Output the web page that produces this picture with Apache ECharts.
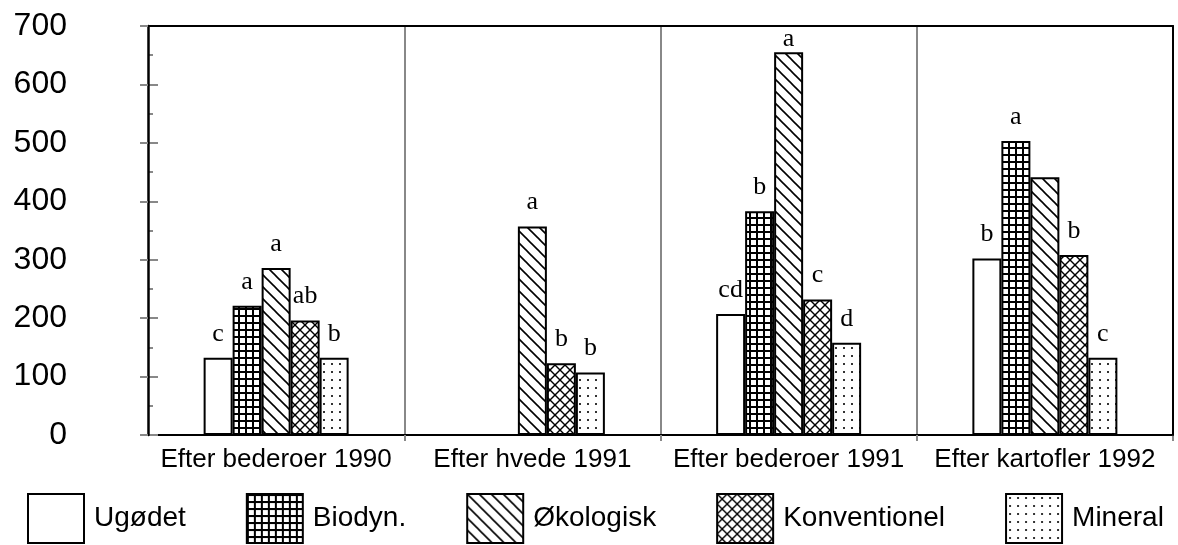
<!DOCTYPE html>
<html>
<head>
<meta charset="utf-8">
<script src="https://cdn.jsdelivr.net/npm/echarts@6/dist/echarts.min.js"></script>
<style>
  html, body { margin: 0; padding: 0; background: #fff; }
  #chart { width: 1178px; height: 545px; }
</style>
</head>
<body>
<div id="chart"></div>
<script>
// ---- data ----
const categories = ['Efter bederoer 1990', 'Efter hvede 1991', 'Efter bederoer 1991', 'Efter kartofler 1992'];
const seriesNames = ['Ugødet', 'Biodyn.', 'Økologisk', 'Konventionel', 'Mineral'];
const ugodet       = [132, null, 207, 302];
const biodyn       = [221, null, 383, 503];
const okologisk    = [286, 357, 655, 441];
const konventionel = [196, 123, 232, 308];
const mineral      = [132, 107, 158, 132];
const ugodetLetters       = ['c', '', 'cd', 'b'];
const biodynLetters       = ['a', '', 'b', 'a'];
const okologiskLetters    = ['a', 'a', 'a', ''];
const konventionelLetters = ['ab', 'b', 'c', 'b'];
const mineralLetters      = ['b', 'b', 'd', 'c'];
const yMin = 0, yMax = 700, yStep = 100;

const values = [ugodet, biodyn, okologisk, konventionel, mineral];
const letters = [ugodetLetters, biodynLetters, okologiskLetters, konventionelLetters, mineralLetters];

// ---- fill patterns ----
function makePattern(type) {
  if (type === 'white') return '#ffffff';
  const c = document.createElement('canvas');
  let s = 8;
  if (type === 'grid') s = 7;
  if (type === 'diag') s = 12;
  if (type === 'cross') s = 10;
  if (type === 'dots') s = 8;
  c.width = s; c.height = s;
  const ctx = c.getContext('2d');
  ctx.fillStyle = '#fff';
  ctx.fillRect(0, 0, s, s);
  ctx.strokeStyle = '#000';
  ctx.fillStyle = '#000';
  if (type === 'grid') {
    ctx.fillRect(0, 0, s, 2);
    ctx.fillRect(0, 0, 2, s);
  } else if (type === 'diag') {
    ctx.lineWidth = 1.6;
    for (let k = -1; k <= 1; k++) {
      ctx.beginPath();
      ctx.moveTo(-2, -2 + k * s);
      ctx.lineTo(s + 2, s + 2 + k * s);
      ctx.stroke();
    }
  } else if (type === 'cross') {
    ctx.lineWidth = 1.4;
    for (let k = -1; k <= 1; k++) {
      ctx.beginPath();
      ctx.moveTo(-2, -2 + k * s);
      ctx.lineTo(s + 2, s + 2 + k * s);
      ctx.stroke();
      ctx.beginPath();
      ctx.moveTo(-2, s + 2 + k * s);
      ctx.lineTo(s + 2, -2 + k * s);
      ctx.stroke();
    }
  } else if (type === 'dots') {
    ctx.fillStyle = '#333';
    ctx.fillRect(3, 3, 2, 2);
  }
  return { image: c, repeat: 'repeat' };
}
const patterns = [makePattern('white'), makePattern('grid'), makePattern('diag'), makePattern('cross'), makePattern('dots')];

const chart = echarts.init(document.getElementById('chart'), null, { renderer: 'canvas' });

const series = seriesNames.map((name, i) => ({
  name: name,
  type: 'bar',
  xAxisIndex: 0,
  yAxisIndex: 0,
  barWidth: 29,
  barGap: '0%',
  itemStyle: { color: patterns[i], borderColor: '#000', borderWidth: 2 },
  label: {
    show: true, position: 'top', color: '#000',
    fontFamily: 'Liberation Serif', fontSize: 26
  },
  data: values[i].map((v, j) => ({
    value: v,
    label: {
      show: !!letters[i][j] && v != null,
      formatter: letters[i][j],
      distance: v > 600 ? 0 : 11
    }
  }))
}));

const option = {
  animation: false,
  backgroundColor: '#fff',
  grid: { left: 148, right: 5, top: 26, bottom: 110, containLabel: false },
  legend: {
    left: 22, top: 488,
    icon: 'rect',
    itemWidth: 56, itemHeight: 49, itemGap: 60,
    itemStyle: { borderColor: '#000', borderWidth: 2 },
    textStyle: { fontFamily: 'Liberation Sans', fontSize: 28, color: '#000', padding: [0, 0, 0, 5] },
    data: seriesNames
  },
  xAxis: [
    {
      type: 'category', data: categories, position: 'bottom',
      axisLine: { onZero: false, lineStyle: { color: '#000', width: 2 } },
      axisTick: { show: true, length: 6, interval: (idx) => idx > 0, lineStyle: { color: '#888', width: 2 } },
      splitLine: { show: true, interval: (idx) => idx > 0, lineStyle: { color: '#888', width: 2 } },
      axisLabel: { interval: 0, hideOverlap: false, fontFamily: 'Liberation Sans', fontSize: 26, color: '#000', margin: 12 }
    },
    {
      type: 'category', data: categories, position: 'top', z: 5,
      axisLine: { show: true, onZero: false, lineStyle: { color: '#000', width: 2 } },
      axisTick: { show: false }, axisLabel: { show: false }, splitLine: { show: false }
    }
  ],
  yAxis: [
    {
      type: 'value', min: yMin, max: yMax, interval: yStep, position: 'left', z: 6,
      axisLine: { show: true, lineStyle: { color: '#000', width: 2.5 } },
      axisTick: { show: true, inside: false, length: 8, lineStyle: { color: '#888', width: 2 } },
      splitLine: { show: false },
      axisLabel: { fontFamily: 'Liberation Sans', fontSize: 32, color: '#000', margin: 81 }
    },
    {
      type: 'value', min: yMin, max: yMax, interval: yStep, position: 'left', z: 4,
      axisLine: { show: false },
      axisTick: { show: true, inside: true, length: 10, lineStyle: { color: '#888', width: 2 } },
      minorTick: { show: true, splitNumber: 2, length: 5, lineStyle: { color: '#888', width: 2 } },
      splitLine: { show: false },
      axisLabel: { show: false }
    },
    {
      type: 'value', min: yMin, max: yMax, interval: yStep, position: 'right', z: 5,
      axisLine: { show: true, lineStyle: { color: '#000', width: 2 } },
      axisTick: { show: false }, splitLine: { show: false }, axisLabel: { show: false }
    }
  ],
  series: series
};
chart.setOption(option);
</script>
</body>
</html>
